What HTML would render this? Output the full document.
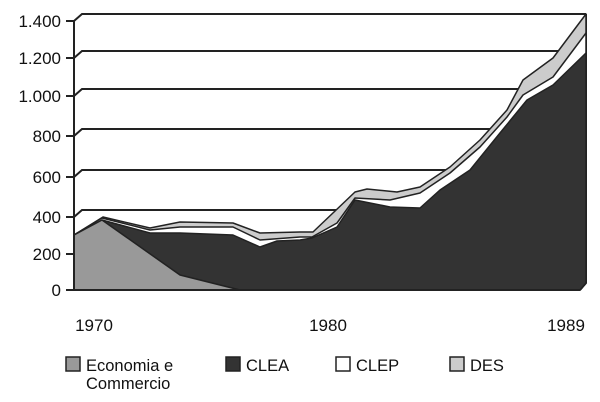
<!DOCTYPE html><html><head><style>body{margin:0;background:#fff}svg{display:block;font-family:"Liberation Sans",sans-serif}</style></head><body>
<svg width="600" height="402" viewBox="0 0 600 402">
<g stroke="#222" stroke-width="2" fill="none">
<path d="M74,21 L82,14 H586"/><path d="M74,58 L82,51 H586"/><path d="M74,96 L82,89 H586"/><path d="M74,136 L82,129 H586"/><path d="M74,177 L82,170 H586"/><path d="M74,217 L82,210 H586"/>
<path d="M586,14 V283 L580,290"/>
</g>
<g stroke="#222" stroke-width="1.5" stroke-linejoin="round">
<polygon fill="#ccc" points="74,290 74,235 103,217 150,228 180,222 233,223 260,233 300,232 313,232 355,192 367,189 397,192 420,187 450,167 480,140 507,110 523,80 553,58 586,14 586,283 580,290"/>
<polygon fill="#fff" points="74,290 74,235 102,218 150,230 180,227 233,227 260,240 300,237 312,237 337,223 355,198 390,200 420,193 450,173 480,147 507,117 523,95 553,77 586,33 586,283 580,290"/>
<polygon fill="#333" points="74,290 74,235 102,220 150,233 180,233 233,235 260,247 277,241 300,240 312,238 337,227 355,200 390,207 420,208 440,190 470,170 500,133 527,100 553,85 586,53 586,283 580,290"/>
<polygon fill="#999" points="74,290 74,235 102,220 180,275 240,290"/>
</g>
<g stroke="#222" stroke-width="2"><line x1="74" y1="21" x2="74" y2="290"/><line x1="66" y1="290" x2="580" y2="290"/>
<line x1="66" y1="21" x2="74" y2="21"/><line x1="66" y1="58" x2="74" y2="58"/><line x1="66" y1="96" x2="74" y2="96"/><line x1="66" y1="136" x2="74" y2="136"/><line x1="66" y1="177" x2="74" y2="177"/><line x1="66" y1="217" x2="74" y2="217"/><line x1="66" y1="254" x2="74" y2="254"/></g>
<g font-size="17" fill="#111" text-anchor="end">
<text x="61" y="27">1.400</text><text x="61" y="64">1.200</text><text x="61" y="102">1.000</text><text x="61" y="142">800</text><text x="61" y="183">600</text><text x="61" y="223">400</text><text x="61" y="260">200</text><text x="61" y="296">0</text></g>
<g font-size="17" fill="#111" text-anchor="middle"><text x="94" y="331">1970</text><text x="328" y="331">1980</text><text x="566" y="331">1989</text></g>
<g stroke="#222" stroke-width="1.5"><rect x="66" y="357" width="14" height="14" fill="#999"/><rect x="226" y="357" width="14" height="14" fill="#333"/><rect x="336" y="357" width="14" height="14" fill="#fff"/><rect x="450" y="357" width="14" height="14" fill="#ccc"/></g>
<g font-size="16.5" fill="#111"><text x="86" y="371">Economia e</text><text x="86" y="389">Commercio</text><text x="246" y="371">CLEA</text><text x="356" y="371">CLEP</text><text x="470" y="371">DES</text></g>
</svg></body></html>
